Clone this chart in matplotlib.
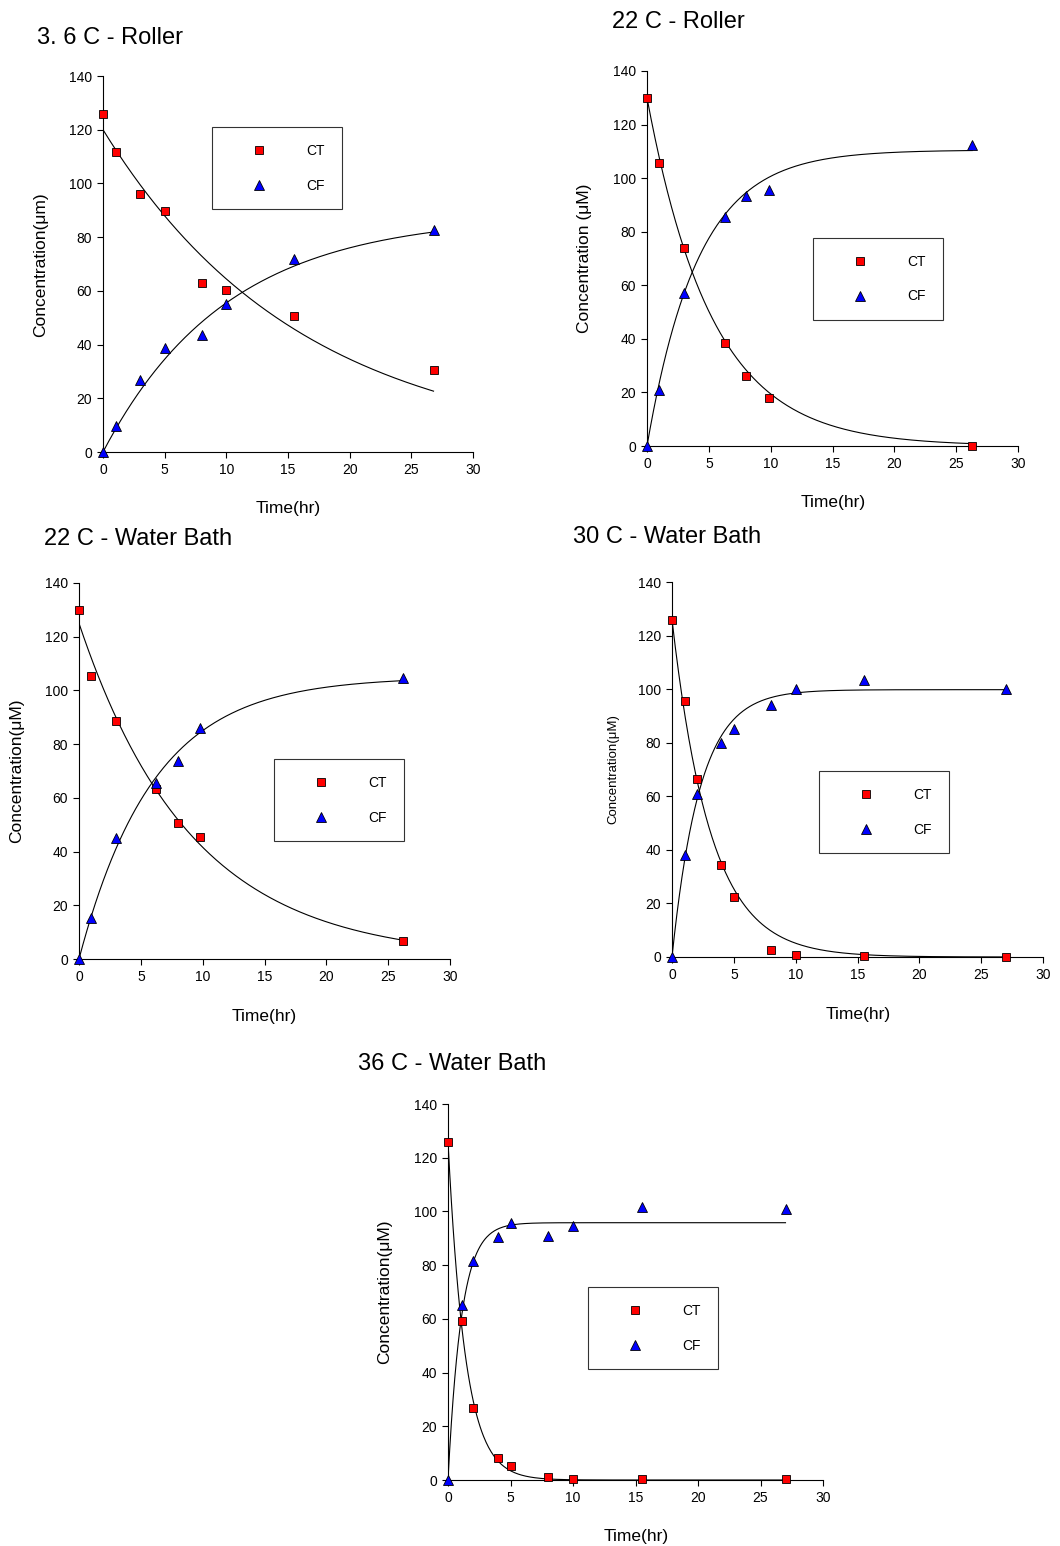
import numpy as np
import matplotlib
matplotlib.use('Agg')
from matplotlib import pyplot as plt

plt.rcParams['font.family'] = ['Liberation Sans', 'DejaVu Sans']

W, H = 1060, 1546

# ---- data ----
titles = ['3. 6 C - Roller', '22 C - Roller', '22 C - Water Bath',
          '30 C - Water Bath', '36 C - Water Bath']
ylabels = ['Concentration(\u03bcm)', 'Concentration (\u03bcM)', 'Concentration(\u03bcM)',
           'Concentration(\u03bcM)', 'Concentration(\u03bcM)']

t1 = [0, 1.05, 3, 5, 8, 10, 15.5, 26.8]
ct1 = [125.7, 111.6, 96.2, 89.8, 63.1, 60.3, 50.7, 30.6]
cf1 = [0, 9.5, 26.9, 38.9, 43.5, 55.1, 71.8, 82.7]

t2 = [0, 1.0, 3.0, 6.3, 8.0, 9.85, 26.3]
ct2 = [130, 105.5, 73.8, 38.4, 26.3, 17.9, 0]
cf2 = [0, 21, 57.3, 85.6, 93.4, 95.7, 112.2]

t3 = [0, 1.0, 3.0, 6.25, 8.0, 9.8, 26.2]
ct3 = [130, 105.4, 88.7, 63.3, 50.5, 45.3, 6.8]
cf3 = [0, 15.3, 45.0, 65.7, 73.6, 86.0, 104.5]

t4 = [0, 1.05, 2, 4, 5, 8, 10, 15.5, 27]
ct4 = [126, 95.4, 66.3, 34.3, 22.4, 2.7, 0.9, 0.2, 0]
cf4 = [0, 38, 60.9, 80, 85, 93.9, 99.9, 103.6, 100.1]

t5 = [0, 1.1, 2, 4, 5, 8, 10, 15.5, 27]
ct5 = [126, 59.2, 26.8, 8.2, 5.1, 1.0, 0.4, 0.2, 0.2]
cf5 = [0, 65.2, 81.7, 90.6, 95.7, 91, 94.5, 101.6, 100.9]

# fitted first-order curves: (CT start, CT rate, CF plateau, CF rate)
fits = [(120, 0.0622, 88, 0.0997),
        (130, 0.19, 110.5, 0.242),
        (125, 0.11, 105, 0.166),
        (126, 0.32, 99.8, 0.44),
        (126, 0.72, 95.8, 0.93)]

series = [(t1, ct1, cf1), (t2, ct2, cf2), (t3, ct3, cf3), (t4, ct4, cf4), (t5, ct5, cf5)]

# ---- layout in pixels (left, right, top, bottom) ----
axes_px = [(103, 473, 76, 452), (647, 1018, 71, 446), (79, 450, 583, 959),
           (672, 1043, 582, 957), (448, 823, 1104, 1480)]
title_px = [(37, 38), (612, 22), (44, 539), (573, 537), (358, 1064)]
ylab_px = [(41, 265), (585, 258), (17, 771), (613, 769), (385, 1292)]
xlab_px = [(288, 509), (833, 503), (264, 1016), (858, 1014), (636, 1537)]
leg_px = [(212, 127), (813, 238), (274, 759), (819, 771), (588, 1287)]
ylab_size = [12.5, 12.5, 12.5, 9.5, 12.5]

fig = plt.figure(figsize=(W / 100, H / 100), dpi=100)

for i in range(5):
    l, r, t, b = axes_px[i]
    ax = fig.add_axes([l / W, 1 - b / H, (r - l) / W, (b - t) / H])
    times, ct, cf = series[i]
    c0, kc, fmax, kf = fits[i]

    tt = np.linspace(0, times[-1], 400)
    ax.plot(tt, c0 * np.exp(-kc * tt), color='black', lw=0.8, zorder=2)
    ax.plot(tt, fmax * (1 - np.exp(-kf * tt)), color='black', lw=0.8, zorder=2)

    ax.plot(times, ct, ls='none', marker='s', ms=6.2, mfc='#FF0000', mec='black',
            mew=0.6, label='CT', clip_on=False, zorder=3)
    ax.plot(times, cf, ls='none', marker='^', ms=7, mfc='#0000FF', mec='black',
            mew=0.6, label='CF', clip_on=False, zorder=3)

    ax.set_xlim(0, 30)
    ax.set_ylim(0, 140)
    ax.set_xticks(range(0, 31, 5))
    ax.set_yticks(range(0, 141, 20))
    for s in ['top', 'right']:
        ax.spines[s].set_visible(False)
    for s in ['left', 'bottom']:
        ax.spines[s].set_linewidth(0.8)
    ax.tick_params(direction='out', length=4, width=0.8, labelsize=10, pad=4)

    lx, ly = leg_px[i]
    leg = ax.legend(loc='upper left', bbox_to_anchor=(lx / W, 1 - ly / H),
                    bbox_transform=fig.transFigure, fontsize=10, frameon=True,
                    fancybox=False, borderpad=1.2, handlelength=4.3,
                    handletextpad=1.3, labelspacing=1.5, borderaxespad=0)
    leg.get_frame().set_edgecolor('black')
    leg.get_frame().set_linewidth(0.8)

    tx, ty = title_px[i]
    fig.text(tx / W, 1 - ty / H, titles[i], fontsize=17, ha='left', va='center')
    yx, yy = ylab_px[i]
    fig.text(yx / W, 1 - yy / H, ylabels[i], fontsize=ylab_size[i], rotation=90,
             ha='center', va='center')
    xx, xy = xlab_px[i]
    fig.text(xx / W, 1 - xy / H, 'Time(hr)', fontsize=12.5, ha='center', va='center')

fig.savefig('out.png', dpi=100)
